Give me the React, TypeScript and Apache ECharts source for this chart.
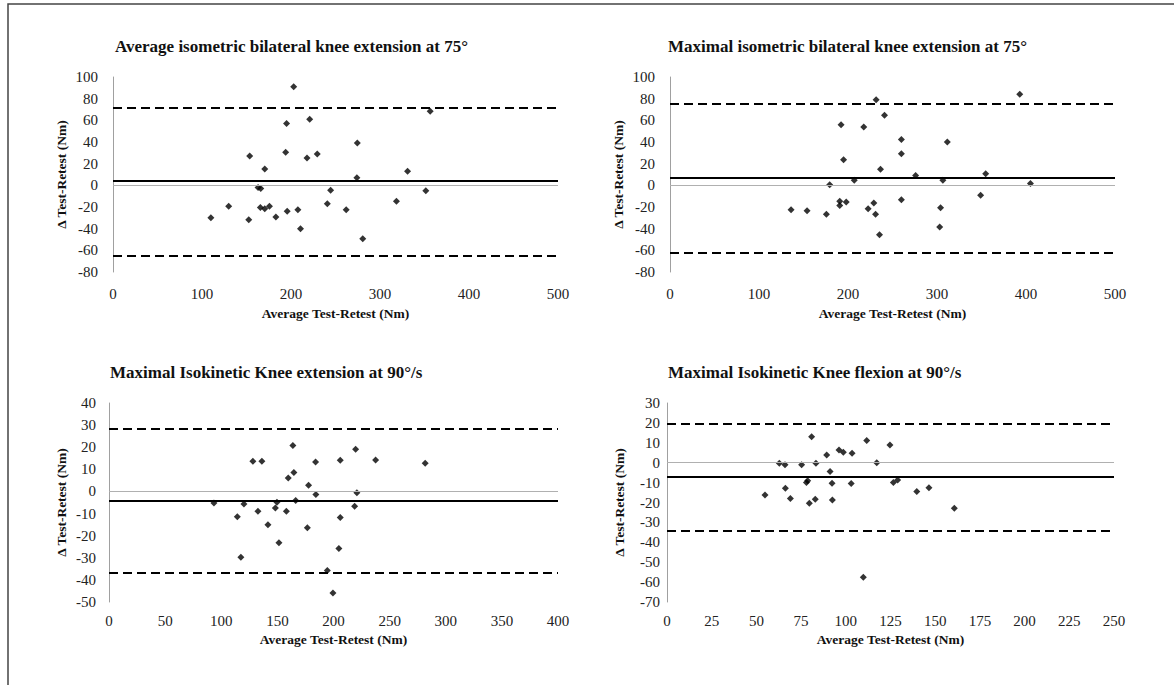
import React, { useEffect, useRef } from "react";
import * as echarts from "echarts";

const chartTitles = [
  "Average isometric bilateral knee extension at 75°",
  "Maximal isometric bilateral knee extension at 75°",
  "Maximal Isokinetic Knee extension at 90°/s",
  "Maximal Isokinetic Knee flexion at 90°/s",
];
const xAxisTitle = "Average Test-Retest (Nm)";
const yAxisTitle = "Δ Test-Retest (Nm)";

// Panel 1: Average isometric bilateral knee extension
const p1X = [203, 195, 221, 274.5, 194, 153.6, 218, 229.5, 170.5, 331, 274, 163, 166, 244.5, 351.5, 130, 165.6, 170.5, 175.8, 195.7, 207.7, 240.8, 262, 318.5, 110, 152.5, 183, 210.7, 280.6, 356.4];
const p1Y = [91, 57, 61, 39, 30.5, 27, 25.3, 29, 15, 13, 7, -2, -3, -4.6, -5, -19.4, -20.4, -21.6, -19.4, -24, -22.5, -17, -22.5, -14.8, -30, -31.8, -29.3, -40, -49.4, 68.5];
const p1Lines = { mean: 4, upper: 72, lower: -65 };

// Panel 2: Maximal isometric bilateral knee extension
const p2X = [231.6, 241, 192.2, 217.7, 260, 311.6, 260, 195, 236.5, 276, 207, 306.6, 179.4, 354.7, 349, 260, 190.7, 190.7, 198, 229, 222.6, 136, 154, 175.7, 231, 304, 303, 235.4, 393, 405];
const p2Y = [79, 64.6, 56, 53.8, 42.2, 40, 29.2, 23.7, 14.8, 9, 4.6, 4.6, 0.6, 10.8, -9.2, -13.2, -14.8, -18.5, -15.4, -16.3, -21.6, -22.5, -23.4, -26.8, -26.8, -20.6, -38.5, -45.5, 84, 1.6];
const p2Lines = { mean: 6.7, upper: 75.4, lower: -62 };

// Panel 3: Maximal isokinetic knee extension
const p3X = [163.8, 128.2, 136.2, 184, 164.7, 159.7, 177.8, 184.3, 166.3, 93.5, 120.2, 149.6, 148.2, 132.7, 158, 114.3, 141.6, 176.7, 151.4, 117.5, 194.5, 219.7, 206, 237.5, 281.7, 220.8, 218.8, 206, 204.8, 199.5];
const p3Y = [20.8, 13.6, 13.6, 13.3, 8.6, 6.1, 2.75, -1.4, -4.1, -5.2, -5.7, -4.9, -7.5, -9, -9, -11.5, -15.1, -16.4, -23.2, -29.8, -35.8, 19.1, 14.1, 14.2, 12.7, -0.6, -6.7, -11.8, -25.8, -45.9];
const p3Lines = { mean: -4.3, upper: 28.3, lower: -36.9 };

// Panel 4: Maximal isokinetic knee flexion
const p4X = [80.9, 62.8, 66, 75.3, 83.3, 89.3, 96.2, 98.6, 103.5, 91.2, 78.7, 78, 92.3, 103, 54.8, 66.2, 69, 79.6, 82.9, 92.5, 109.8, 111.7, 117.3, 124.7, 126.6, 129, 139.7, 146.5, 160.7];
const p4Y = [13.1, -0.3, -1, -1, -0.3, 3.9, 6.4, 5.2, 4.7, -4.4, -9.1, -10, -10.3, -10.4, -16.2, -12.8, -18, -20.4, -18.4, -18.7, -57.6, 11.1, 0, 8.9, -9.9, -8.7, -14.5, -12.6, -22.9];
const p4Lines = { mean: -7.3, upper: 19.4, lower: -34 };

const xRanges = [
  { min: 0, max: 500, interval: 100 },
  { min: 0, max: 500, interval: 100 },
  { min: 0, max: 400, interval: 50 },
  { min: 0, max: 250, interval: 25 },
];
const yRanges = [
  { min: -80, max: 100, interval: 20 },
  { min: -80, max: 100, interval: 20 },
  { min: -50, max: 40, interval: 10 },
  { min: -70, max: 30, interval: 10 },
];

const FONT = "'Liberation Serif', 'Times New Roman', serif";

export default function App() {
  const ref = useRef<HTMLDivElement>(null);
  useEffect(() => {
    if (!ref.current) return;
    const chart = echarts.init(ref.current, undefined, { renderer: "svg" });

    const grids = [
      { left: 113, top: 77, width: 445, height: 195 },
      { left: 670, top: 77, width: 445, height: 195 },
      { left: 109, top: 403, width: 449, height: 199 },
      { left: 667, top: 403, width: 447, height: 199 },
    ];
    const titlePos = [
      { left: 115, top: 38 },
      { left: 668, top: 38 },
      { left: 110, top: 364 },
      { left: 668, top: 364 },
    ];
    const yLabelMargin = [15, 15, 13, 7];
    const yNameGap = [45, 45, 41, 41];
    const xLabelMargin = [14, 14, 11, 11];
    const xNameGap = [34, 34, 30, 30];

    const points = [
      [p1X, p1Y],
      [p2X, p2Y],
      [p3X, p3Y],
      [p4X, p4Y],
    ];
    const lines = [p1Lines, p2Lines, p3Lines, p4Lines];

    const option: any = {
      animation: false,
      backgroundColor: "#ffffff",
      textStyle: { fontFamily: FONT },
      title: chartTitles.map((t, i) => ({
        text: t,
        left: titlePos[i].left,
        top: titlePos[i].top,
        padding: 0,
        textStyle: { fontFamily: FONT, fontSize: 17, fontWeight: "bold", color: "#111" },
      })),
      grid: grids,
      xAxis: xRanges.map((r, i) => ({
        type: "value",
        gridIndex: i,
        min: r.min,
        max: r.max,
        interval: r.interval,
        axisLine: { show: false },
        axisTick: { show: false },
        splitLine: { show: false },
        axisLabel: { fontFamily: FONT, fontSize: 15, color: "#222", margin: xLabelMargin[i] },
        name: xAxisTitle,
        nameLocation: "middle",
        nameGap: xNameGap[i],
        nameTextStyle: { fontFamily: FONT, fontSize: 13.5, fontWeight: "bold", color: "#111" },
      })),
      yAxis: yRanges.map((r, i) => ({
        type: "value",
        gridIndex: i,
        min: r.min,
        max: r.max,
        interval: r.interval,
        axisLine: { show: true, onZero: false, lineStyle: { color: "#a0a0a0", width: 1 } },
        axisTick: { show: false },
        splitLine: { show: false },
        axisLabel: { fontFamily: FONT, fontSize: 15, color: "#222", margin: yLabelMargin[i] },
        name: yAxisTitle,
        nameLocation: "middle",
        nameGap: yNameGap[i],
        nameTextStyle: { fontFamily: FONT, fontSize: 13.5, fontWeight: "bold", color: "#111" },
      })),
      series: points.map((p, i) => ({
        type: "scatter",
        xAxisIndex: i,
        yAxisIndex: i,
        symbol: "diamond",
        symbolSize: 7,
        itemStyle: { color: "#000" },
        data: p[0].map((x, k) => [x, p[1][k]]),
        markLine: {
          silent: true,
          symbol: "none",
          label: { show: false },
          emphasis: { disabled: true },
          data: [
            { yAxis: 0, lineStyle: { color: "#b0b0b0", width: 1, type: "solid" } },
            { yAxis: lines[i].mean, lineStyle: { color: "#000", width: 2, type: "solid" } },
            { yAxis: lines[i].upper, lineStyle: { color: "#000", width: 2, type: [9, 5] } },
            { yAxis: lines[i].lower, lineStyle: { color: "#000", width: 2, type: [9, 5] } },
          ],
        },
      })),
      graphic: [
        {
          type: "rect",
          shape: { x: 8, y: 4, width: 1200, height: 720 },
          style: { fill: "none", stroke: "#444", lineWidth: 1.5 },
          silent: true,
        },
      ],
    };
    chart.setOption(option);
    return () => chart.dispose();
  }, []);
  return (
    <div
      ref={ref}
      style={{ position: "fixed", left: 0, top: 0, width: 1174, height: 685, background: "#fff" }}
    />
  );
}
